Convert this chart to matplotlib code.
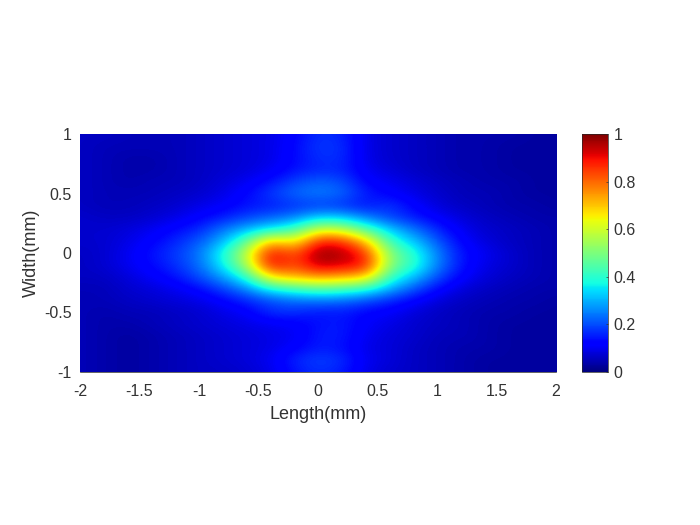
import matplotlib
matplotlib.use("Agg")
import matplotlib.pyplot as plt
import numpy as np

plt.rcParams["font.family"] = ["Arial", "Liberation Sans", "DejaVu Sans"]

# columns: length -2..2 step 0.2
length = np.round(np.arange(-2, 2.01, 0.2), 1)
# rows: width 1..-1 step 0.1
width = np.round(np.arange(1, -1.01, -0.1), 1)
intensity = np.array([
    [.06, .06, .05, .05, .05, .06, .07, .08, .09, .12, .17, .16, .09, .07, .06, .05, .04, .04, .04, .03, .03],
    [.06, .05, .05, .05, .05, .06, .07, .08, .09, .13, .18, .17, .09, .07, .06, .05, .04, .04, .03, .03, .03],
    [.06, .05, .04, .04, .05, .06, .07, .08, .09, .13, .17, .17, .09, .07, .06, .05, .04, .04, .03, .03, .03],
    [.06, .05, .04, .04, .05, .06, .07, .08, .10, .14, .16, .16, .10, .08, .06, .05, .04, .04, .03, .03, .03],
    [.06, .05, .04, .05, .05, .06, .08, .10, .14, .19, .22, .20, .12, .10, .08, .06, .05, .04, .04, .03, .03],
    [.06, .05, .05, .05, .06, .07, .09, .13, .18, .23, .25, .23, .15, .12, .09, .07, .05, .05, .04, .03, .03],
    [.06, .05, .05, .06, .07, .09, .11, .14, .15, .17, .18, .17, .14, .18, .12, .08, .06, .05, .04, .04, .03],
    [.07, .06, .06, .07, .09, .12, .15, .19, .22, .25, .33, .32, .25, .19, .15, .11, .08, .06, .05, .04, .04],
    [.07, .07, .08, .10, .13, .16, .24, .30, .36, .42, .60, .58, .44, .32, .24, .16, .10, .07, .06, .05, .04],
    [.07, .07, .09, .12, .16, .21, .30, .46, .72, .62, .88, .86, .70, .41, .32, .21, .12, .08, .06, .05, .04],
    [.06, .07, .10, .14, .18, .24, .38, .58, .92, .80, .99, .96, .86, .50, .40, .25, .14, .10, .07, .05, .04],
    [.06, .07, .10, .13, .17, .23, .36, .55, .92, .82, .95, .92, .90, .50, .41, .25, .14, .09, .07, .05, .04],
    [.06, .06, .08, .11, .14, .20, .28, .40, .68, .72, .76, .73, .70, .41, .32, .20, .12, .08, .06, .05, .04],
    [.05, .05, .07, .08, .10, .13, .19, .26, .38, .42, .46, .44, .40, .30, .21, .13, .08, .06, .05, .04, .04],
    [.05, .05, .06, .07, .08, .09, .12, .16, .20, .23, .24, .23, .20, .16, .12, .08, .06, .05, .04, .04, .03],
    [.05, .04, .05, .05, .06, .07, .09, .11, .17, .17, .14, .15, .12, .11, .08, .06, .05, .04, .04, .03, .03],
    [.05, .04, .04, .05, .06, .07, .08, .09, .10, .11, .14, .15, .11, .09, .07, .06, .05, .04, .03, .03, .03],
    [.05, .04, .03, .04, .05, .06, .07, .08, .09, .10, .15, .15, .10, .08, .07, .05, .05, .04, .03, .03, .03],
    [.05, .04, .03, .04, .05, .06, .07, .08, .09, .12, .15, .14, .09, .08, .06, .05, .04, .04, .03, .03, .03],
    [.05, .04, .03, .04, .05, .06, .07, .08, .10, .16, .19, .17, .10, .08, .06, .05, .04, .03, .03, .03, .03],
    [.05, .04, .03, .04, .05, .06, .06, .07, .09, .14, .17, .15, .09, .07, .06, .05, .04, .03, .03, .03, .03],
])

dx = 0.2
dy = 0.1

fig = plt.figure(figsize=(7, 5.25), dpi=100)
ax = fig.add_axes([80 / 700, 1 - 372 / 525, 476 / 700, 238 / 525])
im = ax.imshow(
    intensity,
    cmap="jet",
    vmin=0,
    vmax=1,
    aspect="auto",
    interpolation="bicubic",
    extent=[length[0] - dx / 2, length[-1] + dx / 2, width[-1] - dy / 2, width[0] + dy / 2],
)
ax.set_xlim(-2, 2)
ax.set_ylim(-1, 1)
ax.set_xticks([-2, -1.5, -1, -0.5, 0, 0.5, 1, 1.5, 2])
ax.set_xticklabels(["-2", "-1.5", "-1", "-0.5", "0", "0.5", "1", "1.5", "2"])
ax.set_yticks([-1, -0.5, 0, 0.5, 1])
ax.set_yticklabels(["-1", "-0.5", "0", "0.5", "1"])
ax.tick_params(labelsize=11.5, length=0, colors="#333333")
ax.tick_params(axis="x", pad=9)
ax.tick_params(axis="y", pad=6)
ax.set_xlabel("Length(mm)", fontsize=13, color="#333333", labelpad=5)
ax.set_ylabel("Width(mm)", fontsize=13, color="#333333", labelpad=3)
for s in ax.spines.values():
    s.set_visible(False)
ax.spines["bottom"].set_visible(True)
ax.spines["bottom"].set_linewidth(0.5)
ax.spines["bottom"].set_color("#262626")

cax = fig.add_axes([582 / 700, 1 - 372 / 525, 26 / 700, 238 / 525])
cb = fig.colorbar(im, cax=cax)
cb.set_ticks([0, 0.2, 0.4, 0.6, 0.8, 1])
cb.set_ticklabels(["0", "0.2", "0.4", "0.6", "0.8", "1"])
cb.ax.tick_params(labelsize=11.5, length=1.5, width=0.5, direction="in", colors="#333333", pad=4)
cb.outline.set_linewidth(0.5)
cb.outline.set_edgecolor("#262626")

fig.savefig("out.png", dpi=100)
plt.close(fig)
